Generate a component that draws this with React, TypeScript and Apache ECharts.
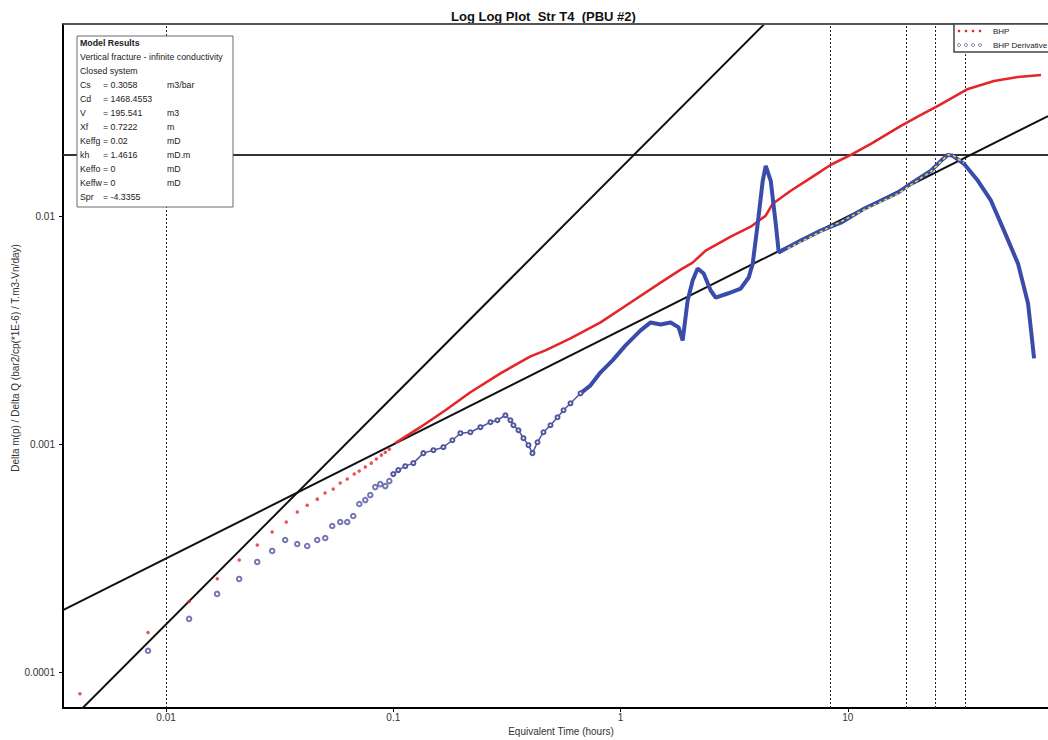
import React, { useEffect, useRef } from "react";
import * as echarts from "echarts";

// ---- axis ranges & tick labels ----
const X_MIN = 0.00352;
const X_MAX = 76;
const Y_MIN = 7.0e-5;
const Y_MAX = 0.07;
const xTickLabels = ["0.01", "0.1", "1", "10"];
const yTickLabels = ["0.0001", "0.001", "0.01"];

// ---- BHP (pressure function) ----
const bhpEarly: [number, number][] = [
  [0.00418, 8.09e-5], [0.00833, 1.5e-4], [0.01263, 2.05e-4], [0.0168, 2.58e-4],
  [0.021, 3.12e-4], [0.0252, 3.63e-4], [0.0293, 4.14e-4], [0.0338, 4.58e-4],
  [0.0378, 5.07e-4], [0.0418, 5.43e-4], [0.0463, 5.77e-4], [0.0501, 6.14e-4],
  [0.0544, 6.39e-4], [0.0584, 6.79e-4], [0.0627, 7.07e-4], [0.0673, 7.43e-4],
  [0.0708, 7.66e-4], [0.0753, 7.98e-4], [0.08, 8.3e-4], [0.0842, 8.65e-4],
  [0.0886, 9.0e-4], [0.0922, 9.27e-4], [0.096, 9.55e-4],
];
const bhpLate: [number, number][] = [
  [0.102, 1.015e-3], [0.1315, 1.193e-3], [0.1695, 1.416e-3], [0.2184, 1.698e-3],
  [0.2961, 2.056e-3], [0.4014, 2.439e-3], [0.4673, 2.592e-3], [0.6021, 2.924e-3],
  [0.8165, 3.437e-3], [1.107, 4.204e-3], [1.5, 5.142e-3], [1.838, 5.862e-3],
  [2.076, 6.289e-3], [2.368, 7.098e-3], [3.052, 8.177e-3], [3.738, 9.04e-3],
  [4.353, 0.0101], [4.673, 0.0114], [5.608, 0.01299], [6.871, 0.01481],
  [8.415, 0.01689], [10.31, 0.01867], [12.63, 0.02087], [17.12, 0.02502],
  [20.97, 0.02795], [24.92, 0.03061], [33.78, 0.03633], [43.98, 0.03937],
  [56.08, 0.041], [70.84, 0.04183],
];

// ---- BHP Derivative ----
const derivEarly: [number, number][] = [
  [0.00833, 1.248e-4], [0.01263, 1.722e-4], [0.01677, 2.216e-4], [0.02097, 2.578e-4],
  [0.02518, 3.06e-4], [0.02931, 3.42e-4], [0.03343, 3.82e-4], [0.03777, 3.669e-4],
  [0.04179, 3.596e-4], [0.04626, 3.82e-4], [0.05017, 3.898e-4], [0.05386, 4.399e-4],
  [0.0584, 4.58e-4], [0.06271, 4.58e-4], [0.06664, 4.864e-4], [0.07084, 5.49e-4],
  [0.07527, 5.716e-4], [0.07918, 6.012e-4], [0.08329, 6.516e-4], [0.08763, 6.715e-4],
  [0.09222, 6.582e-4], [0.09603, 6.922e-4],
];
const derivMid: [number, number][] = [
  [0.1, 7.43e-4], [0.1052, 7.735e-4], [0.1129, 8.05e-4], [0.1225, 8.3e-4],
  [0.1356, 9.18e-4], [0.1501, 9.46e-4], [0.1661, 9.75e-4], [0.1819, 1.046e-3],
  [0.1973, 1.123e-3], [0.2184, 1.134e-3], [0.2417, 1.193e-3], [0.2676, 1.255e-3],
  [0.2871, 1.28e-3], [0.3113, 1.346e-3], [0.3276, 1.28e-3], [0.3378, 1.217e-3],
  [0.3554, 1.157e-3], [0.3738, 1.068e-3], [0.3933, 9.95e-4], [0.4096, 9.18e-4],
  [0.431, 1.025e-3], [0.4579, 1.134e-3], [0.4916, 1.217e-3], [0.5279, 1.319e-3],
  [0.561, 1.416e-3], [0.6021, 1.519e-3], [0.6666, 1.68e-3],
];
const derivLate: [number, number][] = [
  [0.6666, 1.68e-3], [0.7377, 1.821e-3], [0.8165, 2.077e-3], [0.9222, 2.343e-3],
  [1.052, 2.725e-3], [1.225, 3.171e-3], [1.356, 3.437e-3], [1.5, 3.368e-3],
  [1.661, 3.437e-3], [1.801, 3.268e-3], [1.876, 2.866e-3], [1.973, 4.289e-3],
  [2.076, 5.246e-3], [2.184, 5.921e-3], [2.321, 5.63e-3], [2.492, 4.745e-3],
  [2.621, 4.42e-3], [2.961, 4.603e-3], [3.378, 4.84e-3], [3.663, 5.408e-3],
  [3.815, 6.226e-3], [4.013, 9.32e-3], [4.222, 0.01437], [4.353, 0.01671],
  [4.579, 0.01437], [4.817, 9.32e-3], [4.966, 6.96e-3], [5.441, 7.318e-3],
  [6.209, 7.852e-3], [7.605, 8.686e-3], [9.315, 9.413e-3], [11.77, 0.01084],
  [16.61, 0.01274], [18.94, 0.01395], [23.21, 0.0159], [25.69, 0.01758],
  [27.57, 0.01867], [29.01, 0.01849], [32.43, 0.01705], [37.38, 0.01437],
  [42.66, 0.01175], [48.66, 8.686e-3], [56.08, 6.226e-3], [62.09, 4.162e-3],
  [64.01, 3.171e-3], [65.99, 2.391e-3],
];
const modelDeriv: [number, number][] = [
  [5.44, 7.25e-3], [7.6, 8.6e-3], [11.77, 0.0107], [16.61, 0.0126],
  [23.21, 0.0158], [27.57, 0.0187], [29.01, 0.0186], [32.43, 0.0172],
];

// ---- model straight lines & markers ----
const unitSlopeCoef = 0.0163; // y = c * t
const halfSlopeCoef = 0.00317; // y = c * t^0.5
const timeMarkers = [0.01, 8.33, 18.0, 24.2, 32.7];
const derivLevel = 0.01866;

// ---- model results box ----
const modelTitle = "Model Results";
const modelLines = ["Vertical fracture - infinite conductivity", "Closed system"];
const modelRows: [string, string, string][] = [
  ["Cs", "= 0.3058", "m3/bar"],
  ["Cd", "= 1468.4553", ""],
  ["V", "= 195.541", "m3"],
  ["Xf", "= 0.7222", "m"],
  ["Keffg", "= 0.02", "mD"],
  ["kh", "= 1.4616", "mD.m"],
  ["Keffo", "= 0", "mD"],
  ["Keffw", "= 0", "mD"],
  ["Spr", "= -4.3355", ""],
];

const FONT = "'Liberation Sans', Arial, sans-serif";
const RED = "#e3262a";
const BLUE = "#3a4caa";
const BLUE_PT = "#50559f";
const ZG = 50;

function labelFor(v: number, labels: string[]): string {
  for (const l of labels) {
    const n = Number(l);
    if (Math.abs(Math.log10(v) - Math.log10(n)) < 1e-6) return l;
  }
  return "";
}

export default function App() {
  const ref = useRef<HTMLDivElement>(null);
  useEffect(() => {
    if (!ref.current) return;
    const chart = echarts.init(ref.current, null, { renderer: "svg" });

    const unitLine = [X_MIN, X_MAX].map((t) => [t, unitSlopeCoef * t]);
    const halfLine = [X_MIN, X_MAX].map((t) => [t, halfSlopeCoef * Math.sqrt(t)]);

    const boxX = 77, boxY = 36, rowH = 14;
    const txt = (x: number, y: number, text: string, bold = false, z = ZG + 1) => ({
      type: "text", z, x, y,
      style: { text, font: `${bold ? "bold " : ""}8.8px ${FONT}`, fill: "#222", verticalAlign: "middle" },
    });
    const graphics: any[] = [
      { type: "line", z: ZG, shape: { x1: 63, y1: 24, x2: 1048, y2: 24 }, style: { stroke: "#555", lineWidth: 2 } },
      { type: "rect", z: ZG, shape: { x: boxX, y: boxY, width: 156, height: 171 }, style: { fill: "#fff", stroke: "#6a6a6a", lineWidth: 1 } },
      txt(boxX + 3, boxY + 7, modelTitle, true),
    ];
    modelLines.forEach((t, i) => graphics.push(txt(boxX + 3, boxY + 7 + rowH * (i + 1), t)));
    modelRows.forEach((r, i) => {
      const y = boxY + 7 + rowH * (i + 3);
      graphics.push(txt(boxX + 3, y, r[0]));
      graphics.push(txt(boxX + 26, y, r[1]));
      if (r[2]) graphics.push(txt(boxX + 90, y, r[2]));
    });

    graphics.push({ type: "rect", z: ZG, shape: { x: 954, y: 24, width: 130, height: 28 }, style: { fill: "#fff", stroke: "#444", lineWidth: 1.5 } });
    graphics.push({ type: "text", z: ZG + 1, x: 993, y: 31, style: { text: "BHP", font: `8px ${FONT}`, fill: "#222", verticalAlign: "middle" } });
    graphics.push({ type: "text", z: ZG + 1, x: 993, y: 45, style: { text: "BHP Derivative", font: `8px ${FONT}`, fill: "#222", verticalAlign: "middle" } });
    [959, 966, 973, 980].forEach((cx) => {
      graphics.push({ type: "circle", z: ZG + 1, shape: { cx, cy: 31, r: 1.3 }, style: { fill: RED } });
      graphics.push({ type: "circle", z: ZG + 1, shape: { cx, cy: 45, r: 1.5 }, style: { fill: "#fff", stroke: BLUE_PT, lineWidth: 0.8 } });
    });

    graphics.push({
      type: "text", z: ZG, x: 15, y: 358, rotation: Math.PI / 2,
      style: {
        text: "Delta m(p) / Delta Q (bar2/cp(*1E-6) / T.m3-Vn/day)",
        font: `10px ${FONT}`, fill: "#333", align: "center", verticalAlign: "middle",
      },
    });
    graphics.push({
      type: "text", z: ZG, x: 561, y: 731,
      style: { text: "Equivalent Time (hours)", font: `10px ${FONT}`, fill: "#333", align: "center", verticalAlign: "middle" },
    });

    chart.setOption({
      animation: false,
      backgroundColor: "#fff",
      title: {
        text: "Log Log Plot  Str T4  (PBU #2)",
        left: 446,
        top: 5,
        textStyle: { fontFamily: FONT, fontSize: 13, fontWeight: "bold", color: "#111" },
      },
      grid: { left: 63, top: 24, right: 0, bottom: 32, containLabel: false },
      xAxis: {
        type: "log",
        logBase: 10,
        min: X_MIN,
        max: X_MAX,
        axisLine: { lineStyle: { color: "#000", width: 2 } },
        axisTick: { show: true, length: 4, lineStyle: { color: "#000", width: 1 } },
        axisLabel: {
          show: true, margin: 4, fontFamily: FONT, fontSize: 10, color: "#333",
          showMinLabel: false, showMaxLabel: false,
          formatter: (v: number) => labelFor(v, xTickLabels),
        },
        splitLine: { show: false },
      },
      yAxis: {
        type: "log",
        logBase: 10,
        min: Y_MIN,
        max: Y_MAX,
        axisLine: { lineStyle: { color: "#000", width: 2 } },
        axisTick: { show: true, length: 4, lineStyle: { color: "#000", width: 1 } },
        axisLabel: {
          show: true, margin: 8, fontFamily: FONT, fontSize: 10, color: "#333",
          showMinLabel: false, showMaxLabel: false,
          formatter: (v: number) => labelFor(v, yTickLabels),
        },
        splitLine: { show: false },
      },
      series: [
        {
          name: "Unit slope", type: "line", data: unitLine, showSymbol: false, symbol: "none", z: 1,
          lineStyle: { color: "#111", width: 2 },
          markLine: {
            silent: true, symbol: ["none", "none"], label: { show: false }, z: 1, precision: 8,
            data: [
              ...timeMarkers.map((t) => ({ xAxis: t, lineStyle: { color: "#222", width: 1, type: [2, 2] } })),
              { yAxis: derivLevel, lineStyle: { color: "#333", width: 2, type: "solid" } },
            ],
          },
        },
        {
          name: "Half slope", type: "line", data: halfLine, showSymbol: false, symbol: "none", z: 1,
          lineStyle: { color: "#111", width: 2 },
        },
        {
          name: "BHP", type: "scatter", data: bhpEarly, symbol: "circle", symbolSize: 3.5,
          itemStyle: { color: RED }, z: 3,
        },
        {
          name: "BHP", type: "line", data: bhpLate, showSymbol: false, symbol: "none",
          lineStyle: { color: RED, width: 2.6 }, z: 3,
        },
        {
          name: "BHP Derivative", type: "scatter", data: derivEarly, symbol: "emptyCircle", symbolSize: 4.5,
          itemStyle: { color: BLUE_PT, borderColor: BLUE_PT, borderWidth: 1 }, z: 3,
        },
        {
          name: "BHP Derivative", type: "line", data: derivMid, symbol: "emptyCircle", symbolSize: 4, showSymbol: true,
          itemStyle: { color: BLUE_PT, borderColor: BLUE_PT, borderWidth: 1 },
          lineStyle: { color: BLUE_PT, width: 1.5 }, z: 3,
        },
        {
          name: "BHP Derivative", type: "line", data: derivLate, showSymbol: false, symbol: "none",
          lineStyle: { color: BLUE, width: 4 }, z: 3,
        },
        {
          name: "Model derivative", type: "line", data: modelDeriv, showSymbol: false, symbol: "none",
          lineStyle: { color: "#e6dc3a", width: 1.5, type: [3, 3] }, z: 4,
        },
      ],
      graphic: graphics,
    });
    return () => chart.dispose();
  }, []);

  return (
    <div
      ref={ref}
      style={{ position: "fixed", left: 0, top: 0, width: 1048, height: 740, background: "#fff" }}
    />
  );
}
